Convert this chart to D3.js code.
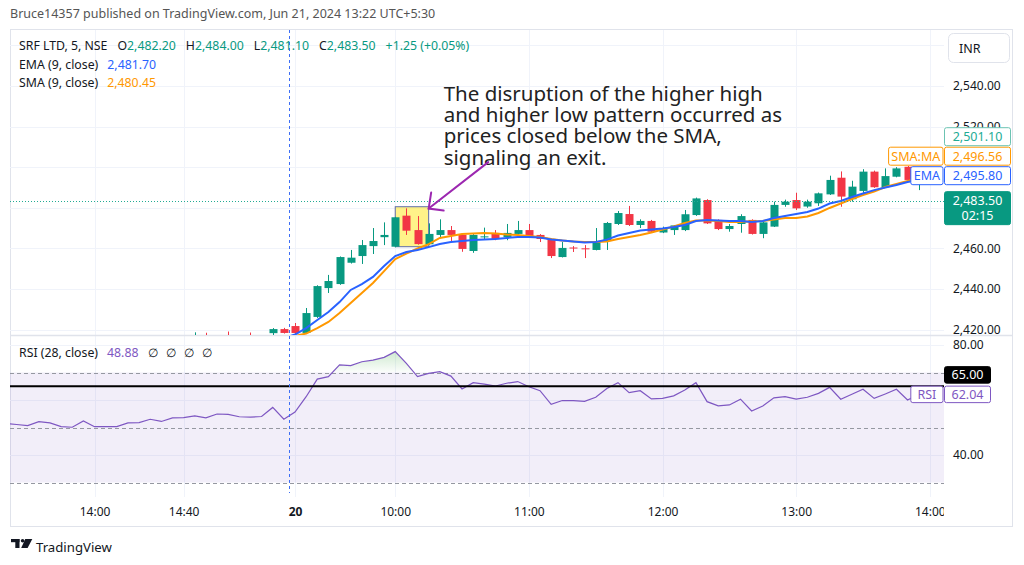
<!DOCTYPE html>
<html>
<head>
<meta charset="utf-8">
<title>SRF LTD, 5, NSE</title>
<script src="https://cdn.jsdelivr.net/npm/d3@7"></script>
<style>
  body { margin: 0; background: #fff; }
  svg { display: block; font-family: "Noto Sans", sans-serif; }
</style>
</head>
<body>
<svg id="chart" width="1024" height="565"></svg>
<script>
// 5 minute bars, Jun 19 13:20 ... 15:25, then Jun 20 09:15 ... 13:55 (bar index 0..82)
const open = [
  2409.5, 2410.0, 2409.6, 2409.2, 2411.0, 2410.6, 2409.6, 2409.4, 2411.6, 2410.0, 2410.0, 2410.0, 2411.5,
  2411.6, 2413.0, 2412.4, 2413.8, 2414.0, 2415.0, 2414.2, 2415.6, 2415.4, 2415.3, 2415.0, 2418.2, 2420.2,
  2421.7, 2418.3, 2426.2, 2440.4, 2442.4, 2452.9, 2456.2, 2461.1, 2465.5, 2460.8, 2476.1, 2469.0, 2462.0,
  2466.6, 2469.0, 2466.6, 2458.7, 2465.6, 2467.6, 2465.6, 2467.1, 2469.0, 2466.6, 2464.6, 2455.7, 2460.4,
  2460.0, 2459.2, 2463.6, 2472.0, 2476.9, 2471.5, 2473.5, 2467.8, 2469.0, 2469.0, 2476.4, 2483.8, 2474.0,
  2469.5, 2472.0, 2474.0, 2467.1, 2470.7, 2481.4, 2483.8, 2480.6, 2482.2, 2486.6, 2494.8, 2484.2, 2488.3,
  2497.8, 2490.1, 2495.3, 2500.2, 2492.0
];
const high = [
  2411.0, 2411.2, 2410.8, 2411.5, 2411.8, 2411.0, 2410.4, 2412.0, 2412.0, 2410.8, 2410.6, 2411.8, 2412.2,
  2413.5, 2413.4, 2414.2, 2414.6, 2418.6, 2418.4, 2416.2, 2419.0, 2416.4, 2418.5, 2416.8, 2420.7, 2420.8,
  2423.2, 2430.6, 2441.8, 2446.9, 2456.0, 2459.2, 2464.1, 2470.0, 2472.8, 2475.5, 2479.7, 2475.9, 2472.3,
  2474.3, 2471.0, 2467.0, 2467.0, 2470.2, 2469.0, 2472.0, 2473.5, 2472.0, 2467.0, 2465.0, 2463.1, 2461.1,
  2461.6, 2470.0, 2473.0, 2478.4, 2480.9, 2474.3, 2474.0, 2470.7, 2471.5, 2478.9, 2485.0, 2484.2, 2474.3,
  2472.0, 2476.8, 2474.3, 2473.0, 2483.0, 2484.0, 2487.4, 2484.0, 2487.5, 2495.8, 2497.9, 2493.3, 2499.0,
  2498.3, 2499.4, 2500.0, 2500.6, 2494.6
];
const low = [
  2408.5, 2409.0, 2408.6, 2409.0, 2410.0, 2409.2, 2408.8, 2409.2, 2409.5, 2409.4, 2409.2, 2409.8, 2411.0,
  2411.2, 2412.0, 2412.2, 2413.2, 2413.8, 2413.6, 2413.8, 2414.8, 2414.6, 2414.0, 2414.6, 2416.4, 2418.0,
  2417.5, 2418.0, 2425.7, 2438.0, 2442.0, 2452.5, 2452.3, 2457.2, 2461.6, 2460.5, 2466.6, 2461.8, 2461.5,
  2465.5, 2463.3, 2458.3, 2457.8, 2464.5, 2464.0, 2464.0, 2466.5, 2465.5, 2463.1, 2455.2, 2455.5, 2458.2,
  2455.2, 2459.0, 2459.2, 2471.5, 2471.0, 2470.0, 2467.8, 2467.5, 2466.6, 2468.5, 2476.0, 2472.0, 2469.0,
  2468.2, 2467.7, 2466.8, 2465.0, 2470.5, 2480.5, 2478.9, 2480.0, 2480.9, 2486.3, 2480.5, 2483.0, 2487.2,
  2489.8, 2489.8, 2495.0, 2493.4, 2488.7
];
const close = [
  2410.0, 2409.6, 2409.2, 2411.0, 2410.6, 2409.6, 2409.4, 2411.6, 2410.0, 2410.0, 2410.0, 2411.5, 2411.6,
  2413.0, 2412.4, 2413.8, 2414.0, 2415.0, 2414.2, 2415.6, 2415.4, 2415.3, 2415.0, 2416.5, 2420.2, 2418.3,
  2418.3, 2428.1, 2441.4, 2443.9, 2455.7, 2455.4, 2461.6, 2463.6, 2466.6, 2475.3, 2468.7, 2462.1, 2467.1,
  2469.0, 2466.6, 2459.7, 2466.6, 2465.9, 2464.6, 2467.6, 2469.0, 2466.1, 2464.6, 2456.2, 2460.2, 2459.9,
  2459.6, 2463.1, 2472.5, 2477.4, 2471.5, 2473.5, 2468.2, 2469.5, 2471.3, 2476.8, 2484.6, 2472.3, 2469.5,
  2471.0, 2475.9, 2467.1, 2472.8, 2481.4, 2483.0, 2479.7, 2483.0, 2487.1, 2493.7, 2485.5, 2490.4, 2497.8,
  2490.1, 2495.6, 2499.4, 2493.7, 2493.2
];

// moving averages, starting at bar 25
const maStart = 25;
const ema = [
  2415.8, 2417.5, 2420.7, 2424.7, 2428.6, 2433.5, 2439.5, 2442.4, 2445.9, 2451.3, 2456.2, 2458.2, 2459.2,
  2460.6, 2462.1, 2463.1, 2463.6, 2464.1, 2464.3, 2464.6, 2465.1, 2465.6, 2465.6, 2465.3, 2464.3, 2463.9,
  2463.4, 2462.9, 2463.1, 2464.3, 2466.3, 2467.6, 2468.8, 2469.3, 2469.8, 2470.5, 2471.5, 2473.5, 2474.0,
  2473.7, 2473.5, 2473.5, 2473.0, 2473.5, 2474.9, 2475.9, 2476.9, 2477.9, 2479.6, 2482.1, 2483.3, 2485.3,
  2487.0, 2488.7, 2490.0, 2491.2, 2492.7, 2493.7
];
const sma = [
  2414.5, 2416.8, 2418.0, 2420.7, 2423.7, 2428.1, 2433.1, 2438.0, 2442.9, 2448.8, 2454.7, 2457.4, 2459.9,
  2462.1, 2465.1, 2466.1, 2467.1, 2467.3, 2467.6, 2467.3, 2466.8, 2466.6, 2466.1, 2465.6, 2464.6, 2463.9,
  2463.4, 2463.1, 2463.1, 2463.4, 2464.6, 2465.6, 2466.6, 2467.8, 2469.3, 2470.8, 2472.5, 2473.7, 2473.7,
  2473.5, 2473.0, 2473.0, 2473.3, 2473.5, 2474.2, 2474.9, 2474.9, 2475.7, 2477.4, 2479.9, 2482.1, 2484.3,
  2486.3, 2488.0, 2490.2, 2491.7, 2493.2, 2494.4
];

const rsi = [
  51.5, 51.1, 50.7, 52.1, 51.7, 50.3, 50.1, 52.4, 50.3, 50.3, 50.3, 51.7, 51.8, 53.0, 52.2, 53.5, 53.6,
  54.2, 53.5, 54.9, 54.8, 53.9, 53.8, 54.0, 57.3, 53.0,
  55.6, 61.2, 67.6, 68.5, 72.8, 72.5, 73.9, 74.5, 75.5, 77.6, 73.3, 68.5, 69.7, 70.3, 68.7, 64.0, 66.3,
  65.8, 65.1, 66.1, 66.7, 64.8, 63.4, 58.4, 59.8, 59.8, 59.5, 61.0, 64.2, 66.3, 62.7, 63.4, 60.4, 60.6,
  61.5, 63.6, 66.3, 59.4, 57.9, 58.2, 60.3, 56.0, 57.8, 60.8, 61.2, 60.3, 61.0, 62.4, 64.6, 60.3, 62.1,
  63.9, 60.6, 62.2, 63.9, 60.0, 62.04
];

const timeTickIdx = [8, 16, 26, 35, 47, 59, 71, 83];
const timeTickLabels = ['14:00', '14:40', '20', '10:00', '11:00', '12:00', '13:00', '14:00'];
const priceTicks = [2420, 2440, 2460, 2480, 2500, 2520, 2540, 2560];
const rsiTicks = [40, 60, 80];
const rsiBands = [70, 50, 30];

const lastPrice = 2483.50, dayHigh = 2501.10, smaLast = 2496.56, emaLast = 2495.80;
const rsiLast = 62.04, hLineLevel = 65;
const crossIdx = 25.45;

const annotationLines = [
  'The disruption of the higher high',
  'and higher low pattern occurred as',
  'prices closed below the SMA,',
  'signaling an exit.'
];

// ---- layout ----
const svg = d3.select('#chart');
const plotL = 10, plotR = 944, frameR = 1012;
const pTop = 30, pBot = 335, rTop = 336, rBot = 497, frameBot = 527;
const up = '#089981', down = '#f23645';
const txt = '#131722';

const x = d3.scaleLinear().domain([26, 82]).range([295, 918.7]);
const y = d3.scaleLinear().domain([2420, 2540]).range([329.5, 86]);
const yr = d3.scaleLinear().domain([40, 80]).range([455, 345]);

const defs = svg.append('defs');
function clip(id, x0, y0, w, h) {
    defs.append('clipPath').attr('id', id).append('rect')
        .attr('x', x0).attr('y', y0).attr('width', w).attr('height', h);
}
clip('clipP', plotL, pTop, plotR - plotL, pBot - pTop);
clip('clipR', plotL, rTop, plotR - plotL, rBot - rTop);
clip('clipOB', plotL, rTop, plotR - plotL, yr(70) - rTop);
clip('clipT', plotL, rBot, plotR - plotL, frameBot - rBot);

const grad = defs.append('linearGradient').attr('id', 'obGrad')
    .attr('gradientUnits', 'userSpaceOnUse')
    .attr('x1', 0).attr('x2', 0).attr('y1', yr(78)).attr('y2', yr(70));
grad.append('stop').attr('offset', 0).attr('stop-color', '#4caf50').attr('stop-opacity', 0.28);
grad.append('stop').attr('offset', 1).attr('stop-color', '#4caf50').attr('stop-opacity', 0.02);

// publish line
svg.append('text').attr('x', 10).attr('y', 18)
    .attr('font-size', 12.5).attr('fill', '#555')
    .text('Bruce14357 published on TradingView.com, Jun 21, 2024 13:22 UTC+5:30');

// frame
svg.append('rect').attr('x', plotL + 0.5).attr('y', pTop - 0.5)
    .attr('width', frameR - plotL).attr('height', frameBot - pTop)
    .attr('fill', 'none').attr('stroke', '#e0e3eb');

// grid
const grid = svg.append('g').attr('stroke', '#f0f3fa').attr('stroke-width', 1);
grid.selectAll('.gx').data(timeTickIdx).join('line')
    .attr('x1', d => Math.round(x(d)) + 0.5).attr('x2', d => Math.round(x(d)) + 0.5)
    .attr('y1', pTop).attr('y2', rBot);
grid.selectAll('.gy').data(priceTicks).join('line')
    .attr('x1', plotL).attr('x2', plotR)
    .attr('y1', d => Math.round(y(d)) + 0.5).attr('y2', d => Math.round(y(d)) + 0.5);
grid.selectAll('.gr').data(rsiTicks).join('line')
    .attr('x1', plotL).attr('x2', plotR)
    .attr('y1', d => Math.round(yr(d)) + 0.5).attr('y2', d => Math.round(yr(d)) + 0.5);

// pane separator
svg.append('line').attr('x1', plotL).attr('x2', frameR)
    .attr('y1', pBot + 0.5).attr('y2', pBot + 0.5)
    .attr('stroke', '#e0e3eb').attr('stroke-width', 1.5);

// ---- price pane ----
const pane = svg.append('g').attr('clip-path', 'url(#clipP)');

// highlight box
pane.append('rect')
    .attr('x', x(35)).attr('y', y(2480.5))
    .attr('width', x(38) - x(35)).attr('height', y(2460.8) - y(2480.5))
    .attr('fill', 'rgba(255,235,59,0.6)').attr('stroke', '#5d6ba8').attr('stroke-width', 1);

const bars = d3.range(open.length);
pane.append('g').selectAll('line').data(bars).join('line')
    .attr('x1', i => Math.round(x(i)) + 0.5).attr('x2', i => Math.round(x(i)) + 0.5)
    .attr('y1', i => y(high[i])).attr('y2', i => y(low[i]))
    .attr('stroke', i => close[i] >= open[i] ? up : down);
pane.append('g').selectAll('rect').data(bars).join('rect')
    .attr('x', i => Math.round(x(i)) - 3.5).attr('width', 8)
    .attr('y', i => y(Math.max(open[i], close[i])))
    .attr('height', i => Math.max(1, Math.abs(y(open[i]) - y(close[i]))))
    .attr('fill', i => close[i] >= open[i] ? up : down);

const maLine = d3.line().x((d, k) => x(maStart + k)).y(d => y(d));
pane.append('path').attr('d', maLine(sma)).attr('fill', 'none')
    .attr('stroke', '#ff9800').attr('stroke-width', 2);
pane.append('path').attr('d', maLine(ema)).attr('fill', 'none')
    .attr('stroke', '#2962ff').attr('stroke-width', 2);

// last price line
pane.append('line').attr('x1', plotL).attr('x2', plotR)
    .attr('y1', Math.round(y(lastPrice)) + 0.5).attr('y2', Math.round(y(lastPrice)) + 0.5)
    .attr('stroke', '#22ab94').attr('stroke-dasharray', '1,2');

// annotation
const note = pane.append('text').attr('font-size', 20.5).attr('fill', '#222');
annotationLines.forEach((s, k) => {
    note.append('tspan').attr('x', x(39.35)).attr('y', 101 + k * 21.2).text(s);
});
const tip = [x(38), y(2479.6)];
const tail = [x(43.35), y(2502.5)];
const arrow = pane.append('g').attr('stroke', '#9c27b0').attr('stroke-width', 2)
    .attr('fill', 'none').attr('stroke-linecap', 'round');
arrow.append('line').attr('x1', tail[0]).attr('y1', tail[1]).attr('x2', tip[0]).attr('y2', tip[1]);
arrow.append('path').attr('d', `M${tip[0] + 2.5},${tip[1] - 16} L${tip[0]},${tip[1]} L${tip[0] + 15},${tip[1] + 2}`);

// ---- rsi pane ----
const rp = svg.append('g').attr('clip-path', 'url(#clipR)');
rp.append('rect').attr('x', plotL).attr('width', plotR - plotL)
    .attr('y', yr(70)).attr('height', yr(30) - yr(70))
    .attr('fill', 'rgba(126,87,194,0.1)');
rp.append('path')
    .attr('clip-path', 'url(#clipOB)')
    .attr('d', d3.area().x((d, i) => x(i)).y0(yr(70)).y1(d => yr(d))(rsi))
    .attr('fill', 'url(#obGrad)');
rp.selectAll('.band').data(rsiBands).join('line')
    .attr('x1', plotL).attr('x2', plotR)
    .attr('y1', d => Math.round(yr(d)) + 0.5).attr('y2', d => Math.round(yr(d)) + 0.5)
    .attr('stroke', '#9598a1').attr('stroke-dasharray', '4,3');
rp.append('path').attr('d', d3.line().x((d, i) => x(i)).y(d => yr(d))(rsi))
    .attr('fill', 'none').attr('stroke', '#7e57c2').attr('stroke-width', 1.2);
rp.append('line').attr('x1', plotL).attr('x2', plotR)
    .attr('y1', yr(hLineLevel)).attr('y2', yr(hLineLevel))
    .attr('stroke', '#000').attr('stroke-width', 2);

// vertical session marker
svg.append('line').attr('x1', Math.round(x(crossIdx)) + 0.5).attr('x2', Math.round(x(crossIdx)) + 0.5)
    .attr('y1', pTop).attr('y2', rBot - 4)
    .attr('stroke', '#3d6ef5').attr('stroke-dasharray', '3,3');

// ---- legends ----
function legend(g, xx, yy, parts) {
    const t = g.append('text').attr('x', xx).attr('y', yy).attr('font-size', 12.3)
        .attr('dominant-baseline', 'central');
    parts.forEach(p => {
        const s = t.append('tspan').text(p[0]).attr('fill', p[1]);
        if (p[2]) s.attr('dx', p[2]);
    });
}
legend(svg, 19, 45, [
    ['SRF LTD, 5, NSE', txt], ['O', txt, 10], ['2,482.20', up], ['H', txt, 10], ['2,484.00', up],
    ['L', txt, 10], ['2,481.10', up], ['C', txt, 10], ['2,483.50', up], ['+1.25 (+0.05%)', up, 10]
]);
legend(svg, 19, 64, [['EMA (9, close)', txt], ['2,481.70', '#2962ff', 9]]);
legend(svg, 19, 82, [['SMA (9, close)', txt], ['2,480.45', '#ff9800', 9]]);
legend(svg, 19, 352, [['RSI (28, close)', txt], ['48.88', '#7e57c2', 9],
    ['\u2205', txt, 10], ['\u2205', txt, 8], ['\u2205', txt, 8], ['\u2205', txt, 8]]);

// ---- axes ----
function tagBoxes(items, h, gap) {
    // stack labels upward so they do not overlap
    const sorted = items.slice().sort((a, b) => a.v - b.v);
    let prevTop = Infinity;
    sorted.forEach(it => {
        const hh = it.h || h;
        let top = it.scale(it.v) - h / 2;
        if (top + hh > prevTop - gap) top = prevTop - gap - hh;
        it.top = top; it.hh = hh;
        prevTop = top;
    });
    return sorted;
}
const priceTags = tagBoxes([
    { v: lastPrice, scale: y, h: 33, label: '2,483.50', sub: '02:15', fill: up, stroke: up, color: '#fff' },
    { v: emaLast, scale: y, label: '2,495.80', fill: '#fff', stroke: '#2962ff', color: '#2962ff', side: 'EMA' },
    { v: smaLast, scale: y, label: '2,496.56', fill: '#fff', stroke: '#ff9800', color: '#ff9800', side: 'SMA:MA' },
    { v: dayHigh, scale: y, label: '2,501.10', fill: '#fff', stroke: '#6cc3b2', color: '#22ab94' }
], 18, 1.5);
const rsiTags = tagBoxes([
    { v: rsiLast, scale: yr, label: '62.04', fill: '#fff', stroke: '#7e57c2', color: '#7e57c2', side: 'RSI', w: 46 },
    { v: hLineLevel, scale: yr, label: '65.00', fill: '#000', stroke: '#000', color: '#fff', w: 46 }
], 16.5, 3);

// axis labels hidden behind a tag are skipped
const covered = (v, tags) => tags.some(t => v > t.top - 1 && v < t.top + t.hh + 1);

const pAxis = svg.append('g').attr('transform', `translate(${plotR},0)`)
    .call(d3.axisRight(y).tickValues(priceTicks.filter(d => !covered(y(d), priceTags) && y(d) > 64))
        .tickFormat(d3.format(',.2f')).tickSize(0).tickPadding(9));
const rAxis = svg.append('g').attr('transform', `translate(${plotR},0)`)
    .call(d3.axisRight(yr).tickValues(rsiTicks.filter(d => !covered(yr(d), rsiTags)))
        .tickFormat(d3.format('.2f')).tickSize(0).tickPadding(9));
[pAxis, rAxis].forEach(a => {
    a.select('.domain').remove();
    a.selectAll('text').attr('font-family', '"Noto Sans", sans-serif').attr('font-size', 12).attr('fill', txt);
});

const tWrap = svg.append('g').attr('clip-path', 'url(#clipT)');
const tAxis = tWrap.append('g').attr('transform', `translate(0,${rBot})`)
    .call(d3.axisBottom(x).tickValues(timeTickIdx)
        .tickFormat((d, i) => timeTickLabels[i]).tickSize(0).tickPadding(10));
tAxis.select('.domain').remove();
tAxis.selectAll('text').attr('font-family', '"Noto Sans", sans-serif').attr('font-size', 12).attr('fill', txt)
    .attr('font-weight', (d, i) => timeTickLabels[i] === '20' ? 700 : 400);

function drawTags(tags, fs) {
    tags.forEach(t => {
        const w = t.w || 66;
        const g = svg.append('g');
        g.append('rect').attr('x', plotR + 0.5).attr('y', t.top).attr('width', w).attr('height', t.hh)
            .attr('rx', 2).attr('fill', t.fill).attr('stroke', t.stroke);
        g.append('text').attr('x', plotR + 0.5 + w / 2).attr('y', t.top + (t.sub ? 9 : t.hh / 2))
            .attr('text-anchor', 'middle').attr('dominant-baseline', 'central')
            .attr('font-size', fs).attr('fill', t.color).text(t.label);
        if (t.sub) {
            g.append('text').attr('x', plotR + 0.5 + w / 2).attr('y', t.top + 24)
                .attr('text-anchor', 'middle').attr('dominant-baseline', 'central')
                .attr('font-size', fs).attr('fill', t.color).text(t.sub);
        }
        if (t.side) {
            const sw = t.side.length * 7.4 + 10;
            g.append('rect').attr('x', plotR - 1 - sw).attr('y', t.top).attr('width', sw).attr('height', t.hh)
                .attr('rx', 2).attr('fill', '#fff').attr('stroke', t.stroke);
            g.append('text').attr('x', plotR - 1 - sw / 2).attr('y', t.top + t.hh / 2)
                .attr('text-anchor', 'middle').attr('dominant-baseline', 'central')
                .attr('font-size', fs).attr('fill', t.color).text(t.side);
        }
    });
}
drawTags(priceTags, 12.5);
drawTags(rsiTags, 12.5);

// currency box
svg.append('rect').attr('x', 948.5).attr('y', 33.5).attr('width', 61).attr('height', 29)
    .attr('rx', 5).attr('fill', '#fff').attr('stroke', '#e0e3eb');
svg.append('text').attr('x', 959).attr('y', 48).attr('dominant-baseline', 'central')
    .attr('font-size', 12.5).attr('fill', txt).text('INR');

// footer logo
const logo = svg.append('g').attr('fill', '#131722');
logo.append('rect').attr('x', 11).attr('y', 539).attr('width', 8.5).attr('height', 3.2);
logo.append('rect').attr('x', 15.3).attr('y', 539).attr('width', 4.2).attr('height', 9);
logo.append('circle').attr('cx', 22.6).attr('cy', 540.7).attr('r', 1.8);
logo.append('polygon').attr('points', '25.2,539 32.3,539 27.6,548 21.2,548');
svg.append('text').attr('x', 36).attr('y', 551.5).attr('font-size', 13.2).attr('fill', '#131722')
    .text('TradingView');
</script>
</body>
</html>
